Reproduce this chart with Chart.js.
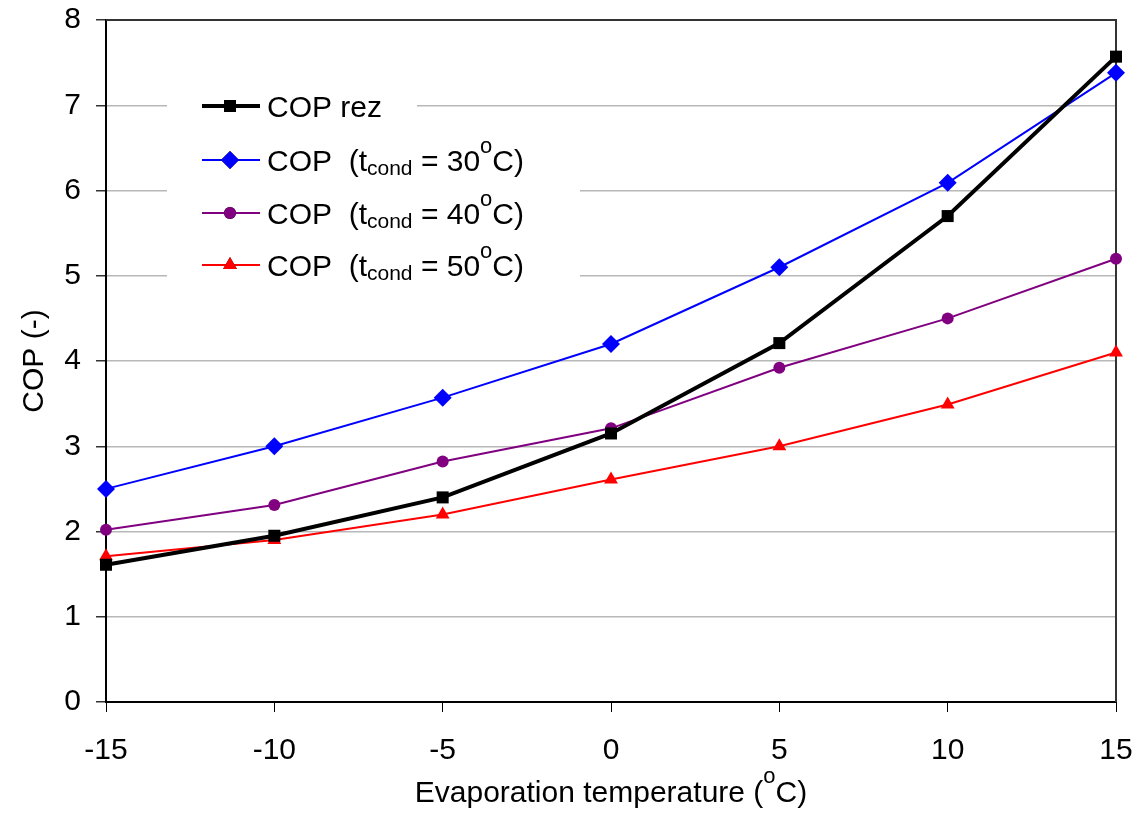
<!DOCTYPE html>
<html>
<head>
<meta charset="utf-8">
<script src="https://cdn.jsdelivr.net/npm/chart.js@4.4.0/dist/chart.umd.min.js"></script>
<style>
  html, body { margin: 0; padding: 0; background: #fff; }
  #wrap { width: 1136px; height: 824px; position: relative; }
</style>
</head>
<body>
<div id="wrap"><canvas id="c" width="1136" height="824"></canvas></div>
<script>
// ---- data ----
const evapTemps = [-15, -10, -5, 0, 5, 10, 15];
const copRez   = [1.61, 1.95, 2.40, 3.15, 4.21, 5.70, 7.57];
const cop30    = [2.50, 3.00, 3.57, 4.20, 5.10, 6.09, 7.38];
const cop40    = [2.02, 2.31, 2.82, 3.21, 3.92, 4.50, 5.20];
const cop50    = [1.71, 1.90, 2.20, 2.61, 3.00, 3.49, 4.10];
const seriesNames = ['COP rez', 'COP  (t_cond = 30°C)', 'COP  (t_cond = 40°C)', 'COP  (t_cond = 50°C)'];
const condTemps = ['30', '40', '50'];
const xTitle = 'Evaporation temperature (';
const yTitle = 'COP (-)';

const FONT = '"Liberation Sans", Arial, sans-serif';
const toXY = (vals) => evapTemps.map((x, i) => ({ x: x, y: vals[i] }));

const styles = [
  { color: '#000000', width: 4, point: 'rect', radius: 8.5 },
  { color: '#0000FF', width: 2, point: 'rectRot', radius: 9 },
  { color: '#800080', width: 2, point: 'circle', radius: 6 },
  { color: '#FF0000', width: 2, point: 'triangle', radius: 8 }
];
const seriesVals = [copRez, cop30, cop40, cop50];

const datasets = seriesVals.map((v, i) => ({
  label: seriesNames[i],
  data: toXY(v),
  borderColor: styles[i].color,
  backgroundColor: styles[i].color,
  borderWidth: styles[i].width,
  pointStyle: styles[i].point,
  pointRadius: styles[i].radius,
  pointHoverRadius: styles[i].radius,
  pointBorderWidth: 0,
  tension: 0,
  clip: false
}));
datasets[0].order = -1;

const framePlugin = {
  id: 'frame',
  beforeDatasetsDraw(chart) {
    const { ctx, chartArea: a } = chart;
    ctx.save();
    ctx.strokeStyle = '#333333';
    ctx.lineWidth = 2;
    ctx.beginPath();
    ctx.moveTo(a.left, a.top);
    ctx.lineTo(a.right, a.top);
    ctx.lineTo(a.right, a.bottom);
    ctx.stroke();
    ctx.restore();
  },
  afterDraw(chart) {
    const { ctx, chartArea: a } = chart;
    ctx.save();
    ctx.fillStyle = '#ffffff';
    ctx.fillRect(167, 82, 250, 48);
    ctx.fillRect(167, 130, 413, 162);

    const rowsY = [106, 160, 213, 265];
    rowsY.forEach((y, i) => {
      const s = styles[i];
      ctx.strokeStyle = s.color;
      ctx.lineWidth = s.width;
      ctx.beginPath();
      ctx.moveTo(202, y);
      ctx.lineTo(260, y);
      ctx.stroke();
      Chart.helpers.drawPoint(ctx, {
        pointStyle: s.point, radius: s.radius, borderWidth: 0
      }, 230, y);
      ctx.fillStyle = s.color;
      ctx.fill();

      ctx.fillStyle = '#000';
      ctx.textBaseline = 'alphabetic';
      ctx.textAlign = 'left';
      const base = y + 10.5;
      ctx.font = '30px ' + FONT;
      if (i === 0) {
        ctx.fillText('COP rez', 267, base);
      } else {
        let x = 267;
        ctx.fillText('COP  (t', x, base);
        x += ctx.measureText('COP  (t').width;
        ctx.font = '21px ' + FONT;
        ctx.fillText('cond', x, base + 4);
        x += ctx.measureText('cond').width;
        ctx.font = '30px ' + FONT;
        const mid = ' = ' + condTemps[i - 1];
        ctx.fillText(mid, x, base);
        x += ctx.measureText(mid).width;
        ctx.font = '22px ' + FONT;
        ctx.fillText('o', x, base - 18);
        x += ctx.measureText('o').width;
        ctx.font = '30px ' + FONT;
        ctx.fillText('C)', x, base);
      }
    });

    ctx.fillStyle = '#000';
    ctx.font = '30px ' + FONT;
    const w1 = ctx.measureText(xTitle).width;
    ctx.font = '22px ' + FONT;
    const w2 = ctx.measureText('o').width;
    ctx.font = '30px ' + FONT;
    const w3 = ctx.measureText('C)').width;
    const total = w1 + w2 + w3;
    let x0 = (a.left + a.right) / 2 - total / 2;
    const by = 802;
    ctx.fillText(xTitle, x0, by);
    ctx.font = '22px ' + FONT;
    ctx.fillText('o', x0 + w1, by - 19);
    ctx.font = '30px ' + FONT;
    ctx.fillText('C)', x0 + w1 + w2, by);

    ctx.save();
    ctx.translate(43, (a.top + a.bottom) / 2);
    ctx.rotate(-Math.PI / 2);
    ctx.textAlign = 'center';
    ctx.textBaseline = 'alphabetic';
    ctx.font = '30px ' + FONT;
    ctx.fillText(yTitle, 0, 0);
    ctx.restore();
    ctx.restore();
  }
};

new Chart(document.getElementById('c'), {
  type: 'line',
  data: { datasets },
  options: {
    responsive: false,
    animation: false,
    events: [],
    layout: { padding: { left: 0, top: 20, right: 20, bottom: 0 } },
    plugins: { legend: { display: false }, tooltip: { enabled: false } },
    scales: {
      x: {
        type: 'linear',
        min: -15, max: 15,
        afterFit(s) { s.height = 122; s.paddingLeft = 0; s.paddingRight = 0; },
        ticks: { stepSize: 5, color: '#000', font: { size: 30, family: FONT }, padding: 21, maxRotation: 0 },
        grid: { drawOnChartArea: false, drawTicks: true, tickLength: 10, tickColor: '#000', lineWidth: 1 },
        border: { display: true, color: '#000', width: 2 }
      },
      y: {
        min: 0, max: 8,
        afterFit(s) { s.width = 106; s.paddingTop = 0; s.paddingBottom = 0; },
        ticks: { stepSize: 1, color: '#000', font: { size: 30, family: FONT }, padding: 15 },
        grid: { color: '#b8b8b8', lineWidth: 1.5, drawTicks: true, tickLength: 10, tickColor: '#333' },
        border: { display: true, color: '#000', width: 2 }
      }
    }
  },
  plugins: [framePlugin]
});
</script>
</body>
</html>
